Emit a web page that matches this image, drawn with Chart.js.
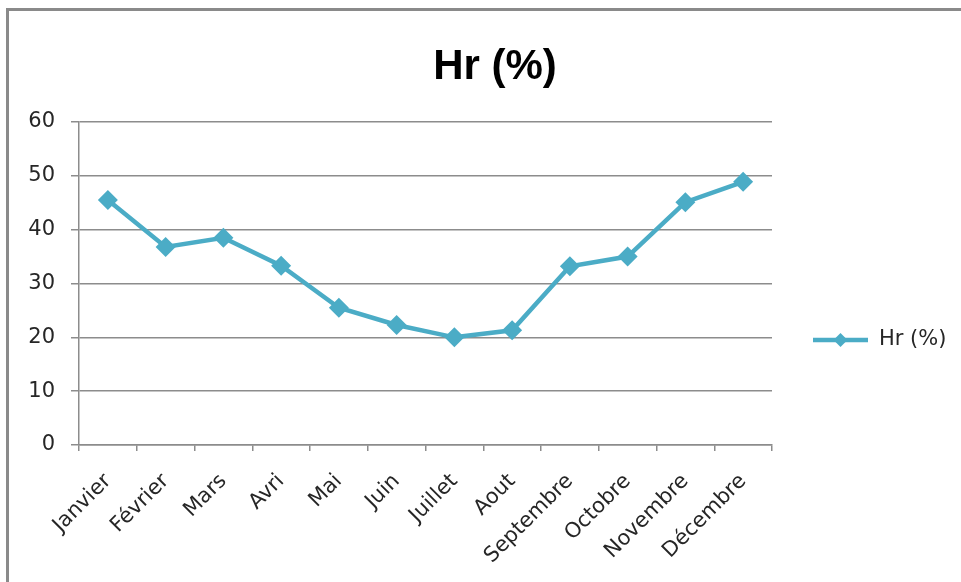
<!DOCTYPE html>
<html>
<head>
<meta charset="utf-8">
<script src="https://cdn.jsdelivr.net/npm/chart.js@4"></script>
<style>
    html, body { margin: 0; padding: 0; background: #fff; overflow: hidden; }
    #frame {
        position: absolute; left: 6px; top: 8px; width: 1000px; height: 620px;
        border-top: 3px solid #8a8a8a; border-left: 3px solid #8a8a8a;
    }
    #wrap { position: absolute; left: 0; top: 0; width: 961px; height: 582px; }
</style>
</head>
<body>
<div id="frame"></div>
<div id="wrap"><canvas id="hrChart" width="961" height="582"></canvas></div>
<script>
// Humidité relative mensuelle (%)
const months = ['Janvier', 'Février', 'Mars', 'Avri', 'Mai', 'Juin', 'Juillet', 'Aout', 'Septembre', 'Octobre', 'Novembre', 'Décembre'];
const hrValues = [45.5, 36.8, 38.5, 33.3, 25.5, 22.3, 20.0, 21.3, 33.2, 35.0, 45.1, 48.9];
const seriesLabel = 'Hr (%)';
const chartTitle = 'Hr (%)';
const yMin = 0;
const yMax = 60;
const yStep = 10;

const lineColor = '#4BACC6';
const textColor = '#262626';
const gridColor = '#8c8c8c';
const baseFont = "'DejaVu Sans', sans-serif";

// titre + legende a droite (trait + losange), placés comme dans Excel
const excelDecor = {
    id: 'excelDecor',
    afterDraw(chart) {
        const ctx = chart.ctx;
        const area = chart.chartArea;
        const ds = chart.data.datasets[0];
        ctx.save();

        // titre
        ctx.fillStyle = '#000';
        ctx.font = "bold 42px 'Liberation Sans', Arial, sans-serif";
        ctx.textAlign = 'center';
        ctx.textBaseline = 'middle';
        ctx.fillText(chartTitle, 495, 67);

        // legende
        const x0 = area.right + 41;
        const x1 = x0 + 55;
        const y = 340;
        ctx.strokeStyle = ds.borderColor;
        ctx.lineWidth = 4.5;
        ctx.beginPath();
        ctx.moveTo(x0, y);
        ctx.lineTo(x1, y);
        ctx.stroke();
        ctx.fillStyle = ds.borderColor;
        const cx = (x0 + x1) / 2, r = 7;
        ctx.beginPath();
        ctx.moveTo(cx, y - r);
        ctx.lineTo(cx + r, y);
        ctx.lineTo(cx, y + r);
        ctx.lineTo(cx - r, y);
        ctx.closePath();
        ctx.fill();
        ctx.fillStyle = textColor;
        ctx.font = '21px ' + baseFont;
        ctx.textAlign = 'left';
        ctx.fillText(ds.label, x1 + 11, y);
        ctx.restore();
    }
};

document.addEventListener('DOMContentLoaded', function() {
    const canvas = document.getElementById('hrChart');
    new Chart(canvas, {
        type: 'line',
        data: {
            labels: months,
            datasets: [{
                label: seriesLabel,
                data: hrValues,
                borderColor: lineColor,
                backgroundColor: lineColor,
                borderWidth: 4.5,
                pointStyle: 'rectRot',
                pointRadius: 10,
                pointHoverRadius: 10,
                pointBorderWidth: 0,
                tension: 0,
                fill: false
            }]
        },
        options: {
            responsive: false,
            animation: false,
            layout: {
                padding: { left: 0, right: 189, top: 122, bottom: 0 }
            },
            plugins: {
                legend: { display: false },
                tooltip: { enabled: false },
                title: { display: false }
            },
            scales: {
                x: {
                    offset: true,
                    grid: {
                        offset: true,
                        drawOnChartArea: false,
                        drawTicks: true,
                        tickLength: 6,
                        color: gridColor,
                        lineWidth: 1.5
                    },
                    border: { color: gridColor, width: 1.5 },
                    ticks: {
                        color: textColor,
                        font: { family: baseFont, size: 21 },
                        minRotation: 45,
                        maxRotation: 45,
                        autoSkip: false,
                        padding: 18
                    },
                    afterFit(scale) { scale.height = 137; }
                },
                y: {
                    min: yMin,
                    max: yMax,
                    grid: {
                        color: gridColor,
                        lineWidth: 1.5,
                        tickLength: 8
                    },
                    border: { color: gridColor, width: 1.5 },
                    ticks: {
                        stepSize: yStep,
                        color: textColor,
                        font: { family: baseFont, size: 21 },
                        padding: 16
                    },
                    afterFit(scale) { scale.width = 79; }
                }
            }
        },
        plugins: [excelDecor]
    });
});
</script>
</body>
</html>
